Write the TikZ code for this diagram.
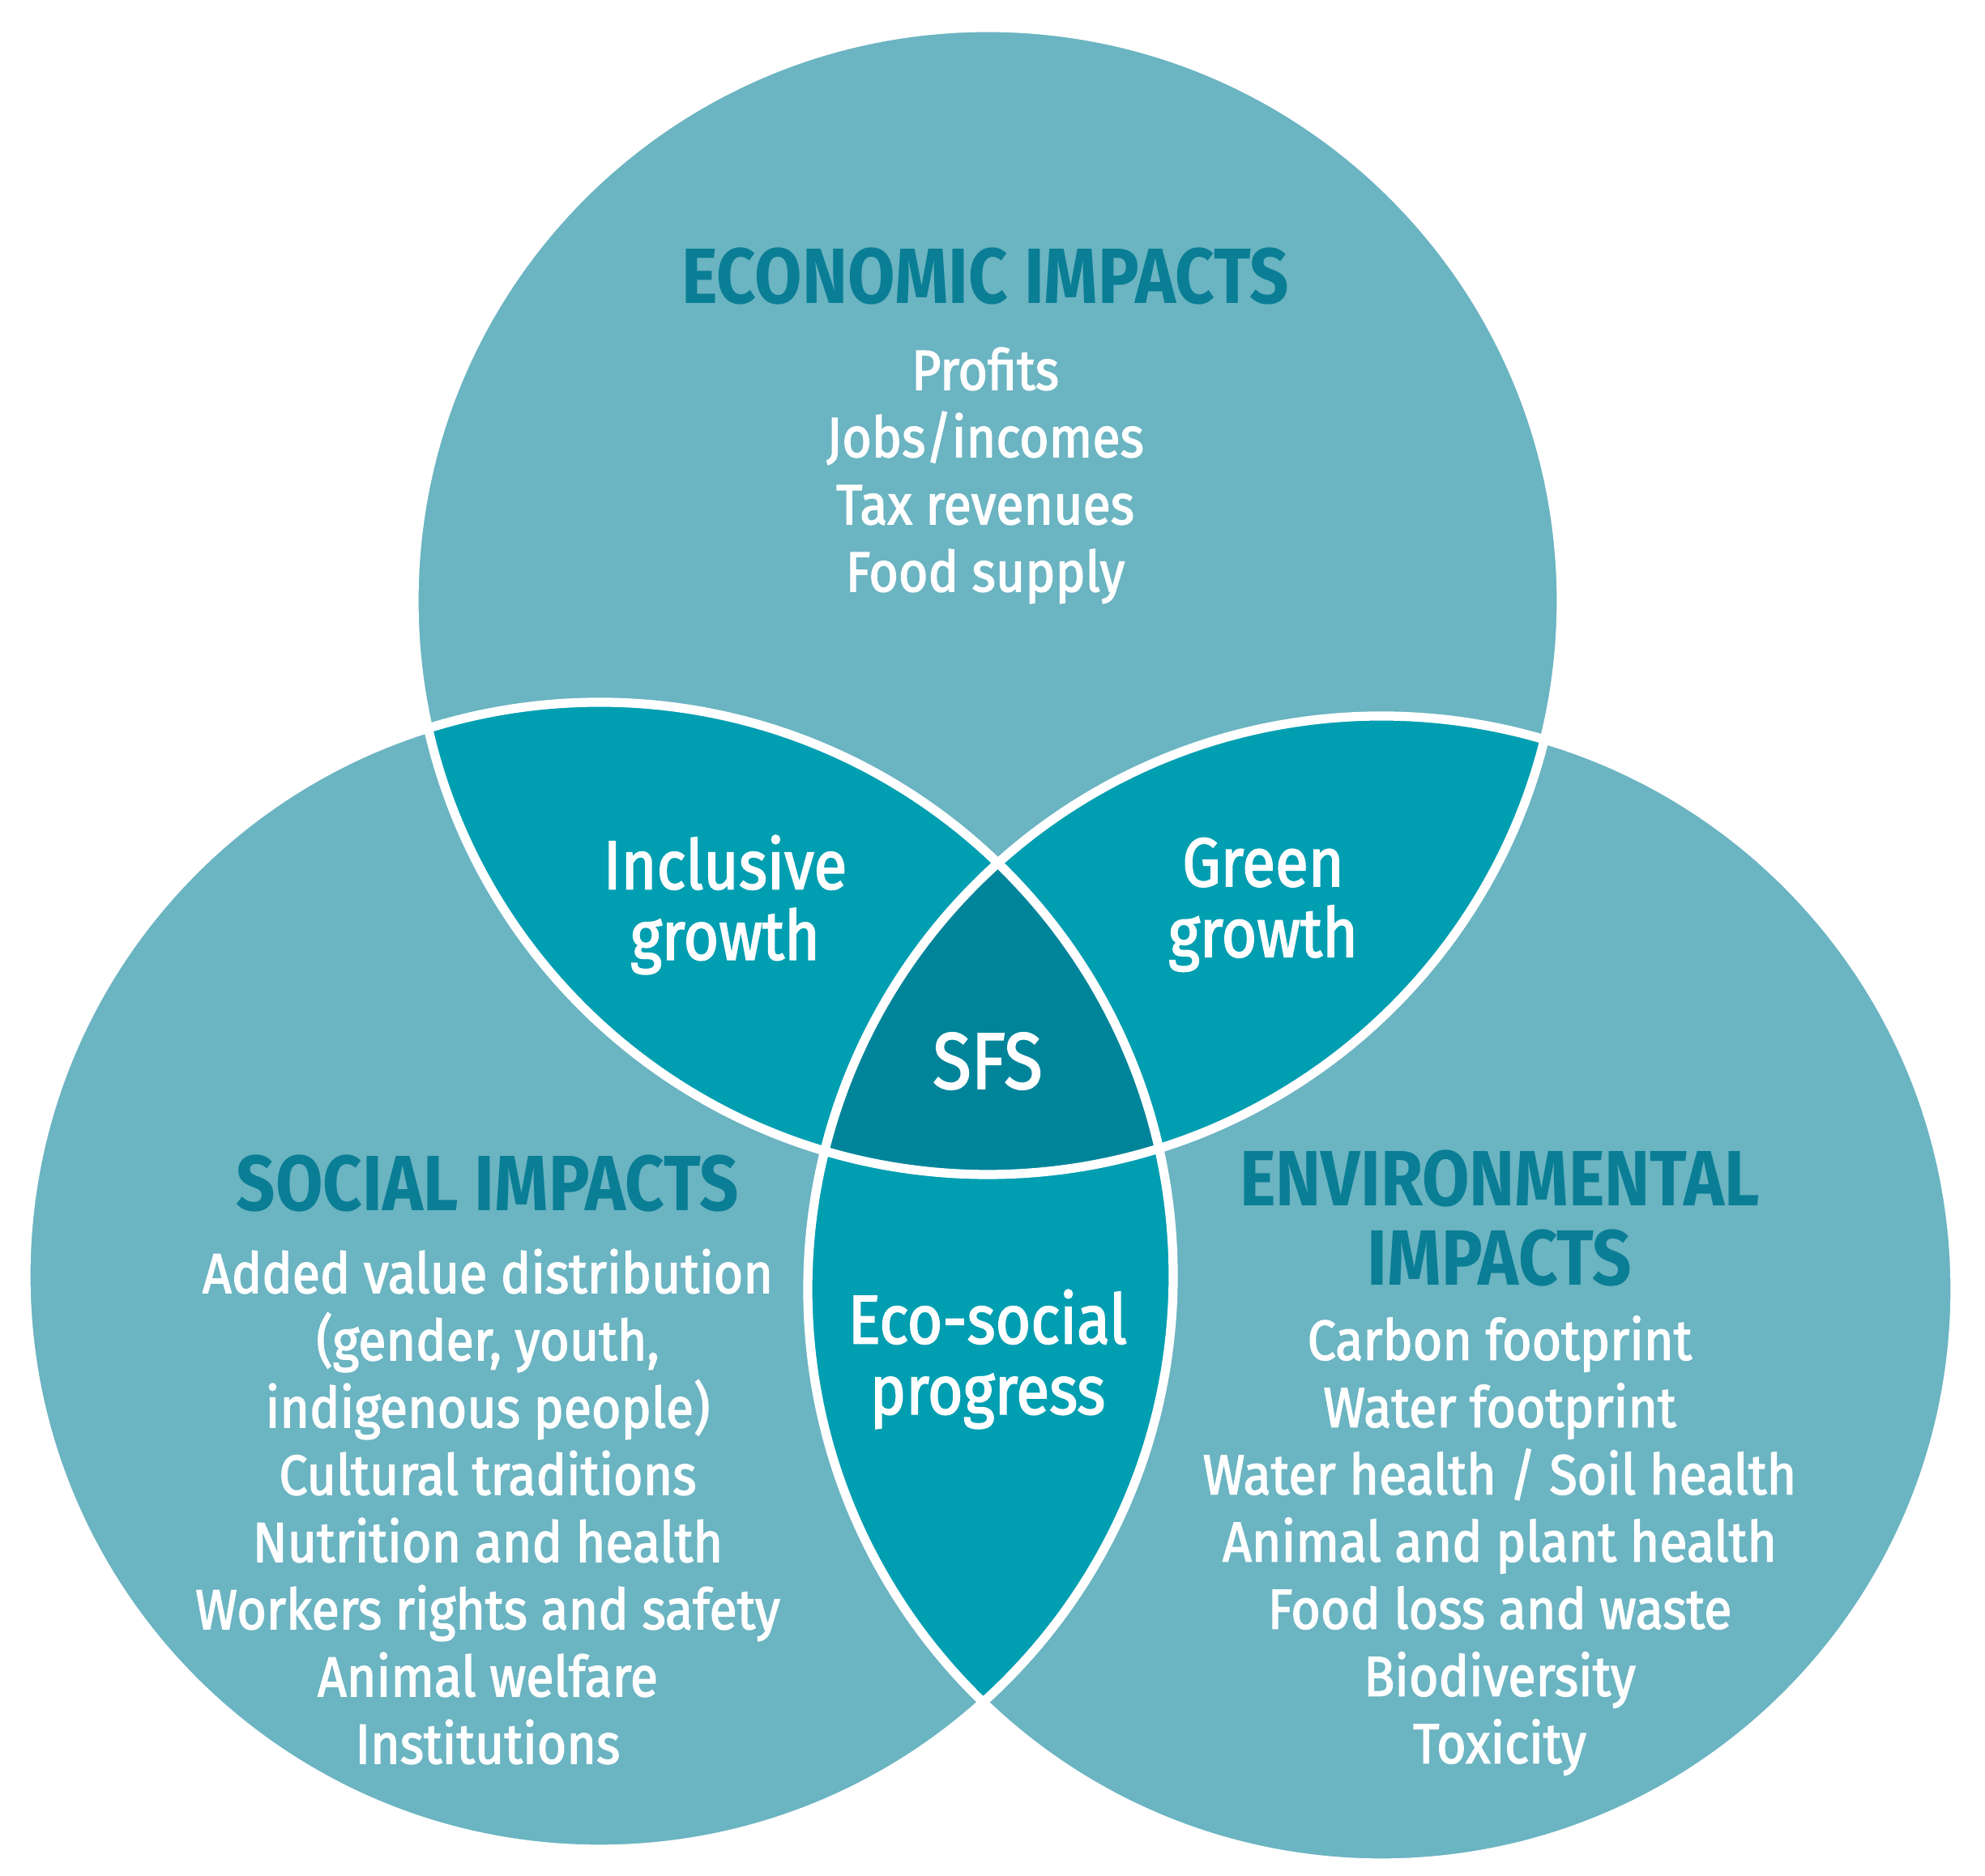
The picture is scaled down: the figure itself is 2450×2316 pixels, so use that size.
\documentclass[tikz,border=0pt]{standalone}
\usepackage{fontspec}
\setmainfont{Fira Sans}
\newfontfamily\wfont{Fira Sans}[FakeStretch=0.90, FakeBold=2]
\newfontfamily\lfont{Fira Sans}[FakeStretch=0.88, FakeBold=2]
\newfontfamily\tfont{Fira Sans}[FakeStretch=0.875]
\definecolor{lightc}{HTML}{6BB4C2}
\definecolor{midc}{HTML}{009EB1}
\definecolor{darkc}{HTML}{00849A}
\definecolor{titlec}{HTML}{0A7E94}
\tikzset{
  titletext/.style={text=titlec, align=center, inner sep=0pt, font=\tfont\bfseries\fontsize{27.5}{30}\selectfont},
  listtext/.style={text=white, align=center, inner sep=0pt, font=\wfont\fontsize{19.8}{23.6}\selectfont},
  lenstext/.style={text=white, align=center, inner sep=0pt, font=\lfont\fontsize{24.2}{24.8}\selectfont},
  sep/.style={white, line width=3.2pt}
}
\begin{document}
\begin{tikzpicture}[x=0.01cm,y=0.01cm]
\useasboundingbox (0,0) rectangle (2450,2316);
\coordinate (T) at (1219,1574);
\coordinate (L) at (740,741);
\coordinate (R) at (1705,724);
\def\rr{708}
% base circles
\fill[lightc] (T) circle[radius=\rr];
\fill[lightc] (L) circle[radius=\rr];
\fill[lightc] (R) circle[radius=\rr];
% pairwise overlaps
\begin{scope}
  \clip (T) circle[radius=\rr];
  \fill[midc] (L) circle[radius=\rr];
  \fill[midc] (R) circle[radius=\rr];
\end{scope}
\begin{scope}
  \clip (L) circle[radius=\rr];
  \fill[midc] (R) circle[radius=\rr];
\end{scope}
% triple overlap
\begin{scope}
  \clip (T) circle[radius=\rr];
  \clip (L) circle[radius=\rr];
  \fill[darkc] (R) circle[radius=\rr];
\end{scope}
% white outlines
\draw[sep] (T) circle[radius=\rr];
\draw[sep] (L) circle[radius=\rr];
\draw[sep] (R) circle[radius=\rr];

% texts
\node[titletext] (econtitle) at (1216,1975) {ECONOMIC IMPACTS};
\node[listtext] (econlist) at (1216,1729) {Profits\\Jobs/incomes\\Tax revenues\\Food supply};

\node[titletext] (soctitle) at (602,855) {SOCIAL IMPACTS};
\node[listtext] (soclist) at (602,456) {Added value distribution\\(gender, youth,\\indigenous people)\\Cultural traditions\\Nutrition and health\\Workers rights and safety\\Animal welfare\\Institutions};

\node[titletext] (envtitlea) at (1851,861) {ENVIRONMENTAL};
\node[titletext] (envtitleb) at (1851,763) {IMPACTS};
\node[listtext] (envlist) at (1851,408) {Carbon footprint\\Water footprint\\Water health / Soil health\\Animal and plant health\\Food loss and waste\\Biodiversity\\Toxicity};

\node[lenstext] (incl) at (895,1199) {Inclusive\\growth};
\node[lenstext] (green) at (1559,1199) {Green\\growth};
\node[lenstext, font=\lfont\fontsize{28}{30}\selectfont] (sfs) at (1219,1006) {SFS};
\node[lenstext] (eco) at (1219,638) {Eco-social\\progress};
\end{tikzpicture}
\end{document}
